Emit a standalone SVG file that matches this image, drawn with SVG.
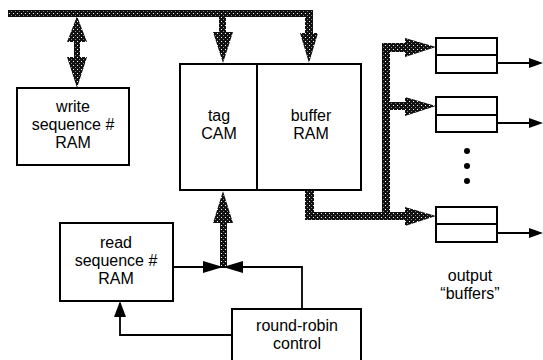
<svg xmlns="http://www.w3.org/2000/svg" width="543" height="360" viewBox="0 0 543 360">
<defs>
<pattern id="dither" width="4" height="4" patternUnits="userSpaceOnUse">
<rect width="4" height="4" fill="#111"/>
<rect x="1" y="1" width="1" height="1" fill="#fff"/>
<rect x="3" y="3" width="1" height="1" fill="#888"/>
</pattern>
<style>
.box{fill:#fff;stroke:#000;stroke-width:2}
.bus{fill:url(#dither);stroke:none}
.wire{fill:none;stroke:#000;stroke-width:1.8}
.head{fill:#000;stroke:none}
.t{font-family:"Liberation Sans",Arial,sans-serif;font-size:16px;fill:#000;text-anchor:middle}
</style>
</defs>
<rect width="543" height="360" fill="#fff"/>
<g id="connectors">
<rect class="bus" x="8" y="10" width="305" height="7"/>
<polygon class="bus" points="77,16 87,42 80,42 80,57 87,57 77,88 67,57 74,57 74,42 67,42"/>
<polygon class="bus" points="219,16 226,16 226,32 233,32 223,63 213,32 219,32"/>
<polygon class="bus" points="305,16 313,16 313,33 318,33 309,63 300,33 305,33"/>
<polygon class="bus" points="305,190 314,190 314,212 405,212 405,207 436,216 405,226 405,220 305,220"/>
<rect class="bus" x="382" y="43" width="8" height="172"/>
<polygon class="bus" points="382,43 405,43 405,38 436,47 405,57 405,52 382,52"/>
<polygon class="bus" points="388,102 405,102 405,97 436,106 405,116 405,110 388,110"/>
<line class="wire" x1="497" y1="63" x2="530" y2="63"/>
<polygon class="head" points="529,58 543,63 529,68"/>
<line class="wire" x1="497" y1="123" x2="530" y2="123"/>
<polygon class="head" points="529,118 543,123 529,128"/>
<line class="wire" x1="497" y1="233" x2="530" y2="233"/>
<polygon class="head" points="529,228 543,233 529,238"/>
<polygon class="bus" points="220,267 227,267 227,223 233,223 223,191 213,223 220,223"/>
<polyline class="wire" points="173,267 302,267 302,309"/>
<polygon class="head" points="203,261 223,267 203,273"/>
<polygon class="head" points="243,261 223,267 243,273"/>
<polyline class="wire" points="232,335 120,335 120,315"/>
<polygon class="head" points="114,317 126,317 120,301"/>
</g>
<g id="write-ram">
<rect class="box" x="17" y="88" width="112" height="77"/>
<text class="t" x="73" y="112">write</text>
<text class="t" x="73" y="130">sequence #</text>
<text class="t" x="73" y="148">RAM</text>
</g>
<g id="tag-cam">
<rect class="box" x="180" y="64" width="77" height="126"/>
<text class="t" x="219" y="121">tag</text>
<text class="t" x="219" y="139">CAM</text>
</g>
<g id="buffer-ram">
<rect class="box" x="257" y="64" width="104" height="126"/>
<text class="t" x="311" y="121">buffer</text>
<text class="t" x="311" y="139">RAM</text>
</g>
<g id="read-ram">
<rect class="box" x="60" y="223" width="113" height="78"/>
<text class="t" x="116" y="248">read</text>
<text class="t" x="116" y="266">sequence #</text>
<text class="t" x="116" y="284">RAM</text>
</g>
<g id="round-robin">
<rect class="box" x="232" y="309" width="129" height="60"/>
<text class="t" x="297" y="331">round-robin</text>
<text class="t" x="297" y="349">control</text>
</g>
<g id="output-buffers">
<rect class="box" x="436" y="38" width="61" height="35"/>
<line class="wire" x1="436" y1="55" x2="497" y2="55"/>
<rect class="box" x="436" y="97" width="61" height="35"/>
<line class="wire" x1="436" y1="115" x2="497" y2="115"/>
<rect class="box" x="436" y="207" width="61" height="35"/>
<line class="wire" x1="436" y1="224" x2="497" y2="224"/>
<circle cx="467" cy="151" r="3" fill="#000"/>
<circle cx="467" cy="166" r="3" fill="#000"/>
<circle cx="467" cy="181" r="3" fill="#000"/>
<text class="t" x="470" y="281">output</text>
<text class="t" x="470" y="299">“buffers”</text>
</g>
</svg>
